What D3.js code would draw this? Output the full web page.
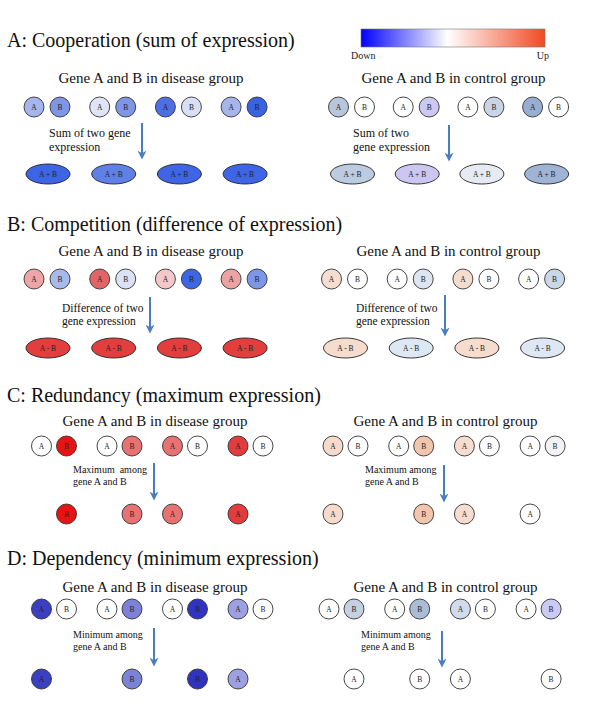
<!DOCTYPE html>
<html><head><meta charset="utf-8">
<script src="https://cdn.jsdelivr.net/npm/d3@7"></script>
<style>html,body{margin:0;padding:0;background:#fff;}svg{display:block;}</style>
</head><body>
<svg id="chart" width="600" height="720"></svg>
<script>
// ---------------- DATA ----------------
const panelTitles = [
  "A: Cooperation (sum of expression)",
  "B: Competition (difference of expression)",
  "C: Redundancy (maximum expression)",
  "D: Dependency (minimum expression)"
];
const groupTitles = ["Gene A and B in disease group", "Gene A and B in control group"];
const geneLabels = ["A", "B"];
const legendLabels = ["Down", "Up"];
const legendColors = ["#0000ff", "#ffffff", "#f04a24"];
const arrowNotes = [
  [["Sum of two gene", "expression"], ["Sum of two", "gene expression"]],
  [["Difference of two", "gene expression"], ["Difference of two", "gene expression"]],
  [["Maximum  among", "gene A and B"], ["Maximum among", "gene A and B"]],
  [["Minimum among", "gene A and B"], ["Minimum among", "gene A and B"]]
];

// expression shown as fill colour, one value per sample pair
const coopDiseaseA   = ["#a6b5ec", "#dfe4f6", "#4c6fe4", "#a6b5ec"];
const coopDiseaseB   = ["#7f96e8", "#7f96e8", "#d9dff4", "#3a62e4"];
const coopDiseaseOut = ["#3d65e5", "#5f80e6", "#3d65e5", "#3d65e5"];
const coopControlA   = ["#b7c6dc", "#ffffff", "#ffffff", "#97aed2"];
const coopControlB   = ["#ffffff", "#cdc8f2", "#c9d5e6", "#ffffff"];
const coopControlOut = ["#bccbe0", "#cbc7f2", "#e6ebf3", "#9fb3d4"];
const coopOutLabels  = ["A + B", "A + B", "A + B", "A + B"];

const compDiseaseA   = ["#efa5a5", "#e36464", "#f4c8c8", "#eca3a3"];
const compDiseaseB   = ["#a9b9ec", "#dbe2f5", "#3d66e5", "#7e96e8"];
const compDiseaseOut = ["#e23e3e", "#e23e3e", "#e23e3e", "#e23e3e"];
const compControlA   = ["#f5ddd0", "#ffffff", "#f5dccf", "#ffffff"];
const compControlB   = ["#ffffff", "#dde6f0", "#ffffff", "#c9d7e8"];
const compControlOut = ["#f6dccc", "#dde8f4", "#f6dccc", "#dde8f4"];
const compOutLabels  = ["A - B", "A - B", "A - B", "A - B"];

const redDiseaseA    = ["#ffffff", "#ffffff", "#e87272", "#e23c3c"];
const redDiseaseB    = ["#e81414", "#e87272", "#ffffff", "#ffffff"];
const redDiseaseOut  = ["#e81414", "#e87272", "#e87272", "#e23c3c"];
const redDiseaseSel  = ["B", "B", "A", "A"];
const redControlA    = ["#f6dacb", "#ffffff", "#f6ddd0", "#ffffff"];
const redControlB    = ["#ffffff", "#f1c6ad", "#ffffff", "#f3f3f7"];
const redControlOut  = ["#f6dacb", "#f1c6ad", "#f6ddd0", "#ffffff"];
const redControlSel  = ["A", "B", "A", "A"];

const depDiseaseA    = ["#3b3fc2", "#ffffff", "#ffffff", "#9da1e2"];
const depDiseaseB    = ["#ffffff", "#7d82d9", "#2f33c0", "#ffffff"];
const depDiseaseOut  = ["#3b3fc2", "#7d82d9", "#2f33c0", "#9da1e2"];
const depDiseaseSel  = ["A", "B", "B", "A"];
const depControlA    = ["#ffffff", "#ffffff", "#d0dbec", "#ffffff"];
const depControlB    = ["#c5d0e2", "#abbcd7", "#ffffff", "#cbcaf5"];
const depControlOut  = ["#ffffff", "#ffffff", "#ffffff", "#ffffff"];
const depControlSel  = ["A", "B", "A", "B"];
const depControlSlot = ["B", "B", "A", "B"];

const pairIndex = [0, 1, 2, 3];

// ---------------- LAYOUT ----------------
const svg = d3.select("#chart");
const serif = "'Liberation Serif','Times New Roman',Times,serif";

const groups = [
  {panel: 0, side: 0, A: coopDiseaseA, B: coopDiseaseB, out: coopDiseaseOut, labels: coopOutLabels, shape: "ellipse"},
  {panel: 0, side: 1, A: coopControlA, B: coopControlB, out: coopControlOut, labels: coopOutLabels, shape: "ellipse"},
  {panel: 1, side: 0, A: compDiseaseA, B: compDiseaseB, out: compDiseaseOut, labels: compOutLabels, shape: "ellipse"},
  {panel: 1, side: 1, A: compControlA, B: compControlB, out: compControlOut, labels: compOutLabels, shape: "ellipse"},
  {panel: 2, side: 0, A: redDiseaseA, B: redDiseaseB, out: redDiseaseOut, labels: redDiseaseSel, slots: redDiseaseSel, shape: "circle"},
  {panel: 2, side: 1, A: redControlA, B: redControlB, out: redControlOut, labels: redControlSel, slots: redControlSel, shape: "circle"},
  {panel: 3, side: 0, A: depDiseaseA, B: depDiseaseB, out: depDiseaseOut, labels: depDiseaseSel, slots: depDiseaseSel, shape: "circle"},
  {panel: 3, side: 1, A: depControlA, B: depControlB, out: depControlOut, labels: depControlSel, slots: depControlSlot, shape: "circle"}
];

const panelLayout = [
  {title: 47, sub: 83, circ: 107, out: 174, noteFont: 12, noteY: [137, 150.5],
   x0: [47, 351.5], step: [65.7, 64.7], half: 13,
   arrowX: [142, 449], arrowY: [[123, 160], [125, 162]], noteX: [49, 353], subX: [151, 453.5]},
  {title: 231, sub: 256, circ: 279, out: 348, noteFont: 11.5, noteY: [312, 325],
   x0: [47, 344.5], step: [65.7, 65.7], half: 13,
   arrowX: [150, 445], arrowY: [[297, 334], [295, 337]], noteX: [62, 356], subX: [151, 448.5]},
  {title: 402, sub: 426, circ: 446, out: 514, noteFont: 10, noteY: [473, 484.5],
   x0: [54, 345.5], step: [65.5, 65.7], half: 12.5,
   arrowX: [154, 444], arrowY: [[463, 501], [465, 503]], noteX: [73, 365], subX: [155, 445.5]},
  {title: 565, sub: 592, circ: 609, out: 679, noteFont: 10, noteY: [638, 649.5],
   x0: [54, 341.5], step: [65.5, 65.7], half: 12.5,
   arrowX: [154, 442], arrowY: [[628, 667], [631, 668]], noteX: [73, 361], subX: [155, 445.5]}
];

const R = 10;
const strokeCol = "#333";
const labelSize = 7.5;

const defs = svg.append("defs");
defs.append("marker")
  .attr("id", "ahead").attr("viewBox", "0 0 10 10")
  .attr("refX", 6).attr("refY", 5)
  .attr("markerWidth", 4.5).attr("markerHeight", 4.5)
  .attr("orient", "auto")
  .append("path").attr("d", "M0,0 L10,5 L0,10 L3,5 Z").attr("fill", "#4a7cc0");

// colour legend
const grad = defs.append("linearGradient").attr("id", "legendGrad");
const stopPos = d3.scaleLinear().domain([0, legendColors.length - 1]).range([0, 1]);
grad.selectAll("stop").data(legendColors).join("stop")
  .attr("offset", (d, i) => i === 1 ? "0.47" : stopPos(i))
  .attr("stop-color", d => d);
const legendScale = d3.scaleLinear().domain([0, 1]).range([361, 545]);
svg.append("rect").attr("x", legendScale(0)).attr("y", 29)
  .attr("width", legendScale(1) - legendScale(0)).attr("height", 18)
  .attr("fill", "url(#legendGrad)").attr("stroke", "#777").attr("stroke-width", 0.6);
svg.selectAll("text.leg").data(legendLabels).join("text").attr("class", "leg")
  .attr("x", (d, i) => i === 0 ? 351 : 549)
  .attr("y", 59)
  .attr("text-anchor", (d, i) => i === 0 ? "start" : "end")
  .attr("font-family", serif).attr("font-size", 10).attr("fill", "#222")
  .text(d => d);

svg.selectAll("text.ptitle").data(panelTitles).join("text").attr("class", "ptitle")
  .attr("x", 7).attr("y", (d, i) => panelLayout[i].title)
  .attr("font-family", serif).attr("font-size", 20).attr("fill", "#111")
  .text(d => d);

groups.forEach(g => {
  const L = panelLayout[g.panel];
  const s = g.side;
  const gg = svg.append("g");
  const xPair = d3.scalePoint().domain(pairIndex).range([L.x0[s], L.x0[s] + 3 * L.step[s]]);
  const xGene = (i, gene) => xPair(i) + (gene === "A" ? -L.half : L.half);

  gg.append("text").attr("x", L.subX[s]).attr("y", L.sub)
    .attr("text-anchor", "middle")
    .attr("font-family", serif).attr("font-size", 15).attr("fill", "#111")
    .text(groupTitles[s]);

  const genes = [];
  pairIndex.forEach(i => geneLabels.forEach(gn => genes.push({i, gn, fill: g[gn][i]})));
  gg.selectAll("circle.gene").data(genes).join("circle").attr("class", "gene")
    .attr("cx", d => xGene(d.i, d.gn)).attr("cy", L.circ).attr("r", R)
    .attr("fill", d => d.fill).attr("stroke", strokeCol).attr("stroke-width", 0.9);
  gg.selectAll("text.gene").data(genes).join("text").attr("class", "gene")
    .attr("x", d => xGene(d.i, d.gn)).attr("y", L.circ + 2.7)
    .attr("text-anchor", "middle")
    .attr("font-family", serif).attr("font-size", labelSize).attr("fill", "#222")
    .text(d => d.gn);

  gg.append("line")
    .attr("x1", L.arrowX[s]).attr("x2", L.arrowX[s])
    .attr("y1", L.arrowY[s][0]).attr("y2", L.arrowY[s][1] - 4)
    .attr("stroke", "#4a7cc0").attr("stroke-width", 2)
    .attr("marker-end", "url(#ahead)");

  gg.selectAll("text.note").data(arrowNotes[g.panel][s]).join("text").attr("class", "note")
    .attr("x", L.noteX[s]).attr("y", (d, k) => L.noteY[k])
    .attr("font-family", serif).attr("font-size", L.noteFont).attr("fill", "#111")
    .style("white-space", "pre")
    .text(d => d);

  const outs = pairIndex.map(i => ({i, fill: g.out[i], label: g.labels[i], slot: g.slots ? g.slots[i] : null}));
  if (g.shape === "ellipse") {
    gg.selectAll("ellipse.out").data(outs).join("ellipse").attr("class", "out")
      .attr("cx", d => xPair(d.i) + 1).attr("cy", L.out).attr("rx", 22).attr("ry", 10)
      .attr("fill", d => d.fill).attr("stroke", "#222").attr("stroke-width", 0.9);
    gg.selectAll("text.out").data(outs).join("text").attr("class", "out")
      .attr("x", d => xPair(d.i) + 1).attr("y", L.out + 2.7)
      .attr("text-anchor", "middle").style("white-space", "pre")
      .attr("font-family", serif).attr("font-size", labelSize).attr("fill", "#222")
      .text(d => d.label);
  } else {
    gg.selectAll("circle.out").data(outs).join("circle").attr("class", "out")
      .attr("cx", d => xGene(d.i, d.slot)).attr("cy", L.out).attr("r", R)
      .attr("fill", d => d.fill).attr("stroke", strokeCol).attr("stroke-width", 0.9);
    gg.selectAll("text.out").data(outs).join("text").attr("class", "out")
      .attr("x", d => xGene(d.i, d.slot)).attr("y", L.out + 2.7)
      .attr("text-anchor", "middle")
      .attr("font-family", serif).attr("font-size", labelSize).attr("fill", "#222")
      .text(d => d.label);
  }
});
</script>
</body></html>
